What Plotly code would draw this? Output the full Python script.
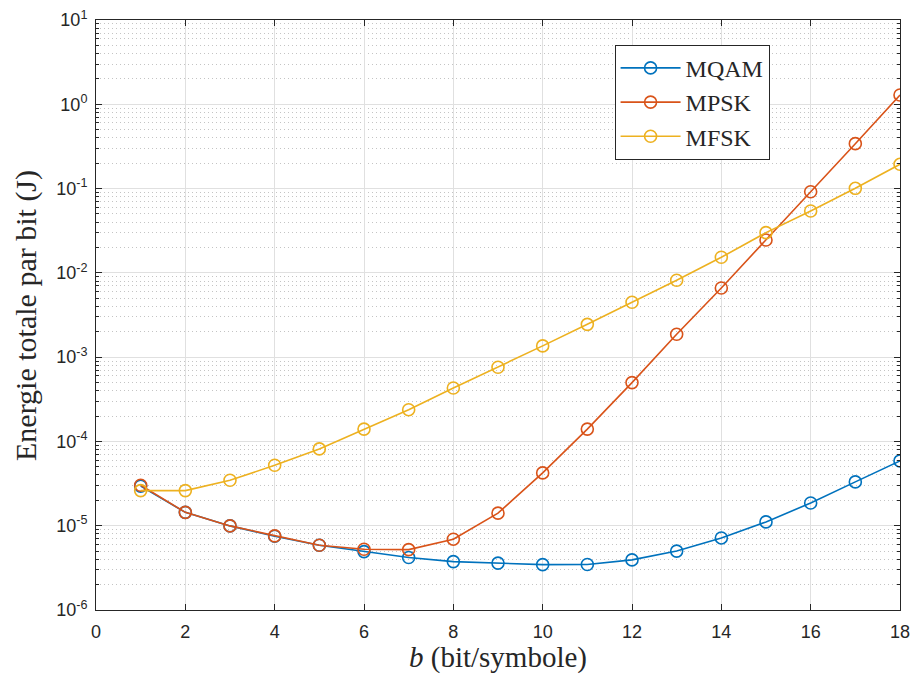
import plotly.graph_objects as go

b = list(range(1, 19))
mqam = [2.95e-5, 1.44e-5, 9.95e-6, 7.5e-6, 5.86e-6, 4.93e-6, 4.19e-6, 3.75e-6, 3.6e-6,
        3.45e-6, 3.47e-6, 3.93e-6, 5.0e-6, 7.16e-6, 1.11e-5, 1.86e-5, 3.31e-5, 5.87e-5]
mpsk = [3.02e-5, 1.44e-5, 9.95e-6, 7.57e-6, 5.86e-6, 5.26e-6, 5.2e-6, 6.92e-6, 1.41e-5,
        4.23e-5, 1.40e-4, 4.99e-4, 1.87e-3, 6.62e-3, 2.45e-2, 9.18e-2, 0.341, 1.29]
mfsk = [2.61e-5, 2.61e-5, 3.46e-5, 5.21e-5, 8.15e-5, 1.40e-4, 2.38e-4, 4.31e-4, 7.58e-4,
        1.36e-3, 2.45e-3, 4.48e-3, 8.16e-3, 1.53e-2, 3.0e-2, 5.42e-2, 0.1007, 0.194]

series = [("MQAM", mqam, "#0072BD"), ("MPSK", mpsk, "#D95319"), ("MFSK", mfsk, "#EDB120")]

xticks = list(range(0, 19, 2))
ytick_exps = list(range(-6, 2))
ytick_vals = [10.0 ** e for e in ytick_exps]
ytick_text = ["10<sup>%d</sup>" % e for e in ytick_exps]

x_title = "<i>b</i> (bit/symbole)"
y_title = "Energie totale par bit (J)"

SANS = "Liberation Sans, Arial, sans-serif"
SERIF = "Liberation Serif, Times New Roman, Times, serif"

fig = go.Figure()
for name, vals, col in series:
    fig.add_trace(go.Scatter(
        x=b, y=vals, name=name, mode="lines+markers",
        line=dict(color=col, width=1.6),
        marker=dict(symbol="circle-open", size=12, color=col, line=dict(width=1.6)),
    ))

axis_common = dict(
    showline=True, linecolor="#262626", linewidth=1, mirror="allticks",
    ticks="inside", tickcolor="#262626",
    tickfont=dict(family=SANS, size=18, color="#262626"),
    showgrid=True, gridcolor="#e0e0e0", gridwidth=1, zeroline=False,
    automargin=False,
)

fig.update_xaxes(
    range=[0, 18], tickvals=xticks, ticktext=[str(v) for v in xticks], ticklen=6,
    ticklabelstandoff=5,
    **axis_common,
)
fig.update_yaxes(
    type="log", range=[-6, 1], tickvals=ytick_vals, ticktext=ytick_text, ticklen=6,
    ticklabelstandoff=4,
    minor=dict(dtick="D1", ticks="inside", ticklen=3, tickcolor="#262626", showgrid=True,
               gridcolor="#c4c4c4", griddash="1px,3px", gridwidth=1),
    **axis_common,
)

fig.add_annotation(
    text=x_title, xref="paper", yref="paper", x=0.5, y=-0.08,
    xanchor="center", yanchor="middle", showarrow=False,
    font=dict(family=SERIF, size=29, color="#262626"),
)
fig.add_annotation(
    text=y_title, xref="paper", yref="paper", x=-0.0871, y=0.5,
    xanchor="center", yanchor="middle", showarrow=False, textangle=-90,
    font=dict(family=SERIF, size=30, color="#262626"),
)

fig.update_layout(
    width=915, height=675,
    font=dict(family=SANS, size=18, color="#262626"),
    margin=dict(l=96, r=15, t=20, b=65),
    paper_bgcolor="white", plot_bgcolor="white",
    legend=dict(
        x=0.645, y=0.958, xanchor="left", yanchor="top",
        bgcolor="white", bordercolor="#262626", borderwidth=1,
        font=dict(family=SERIF, size=24, color="#262626"),
        itemwidth=60, tracegroupgap=0,
    ),
    showlegend=True,
)

fig.write_html("out.html", config={"displayModeBar": False},
               post_script="document.body.style.margin='0';")
